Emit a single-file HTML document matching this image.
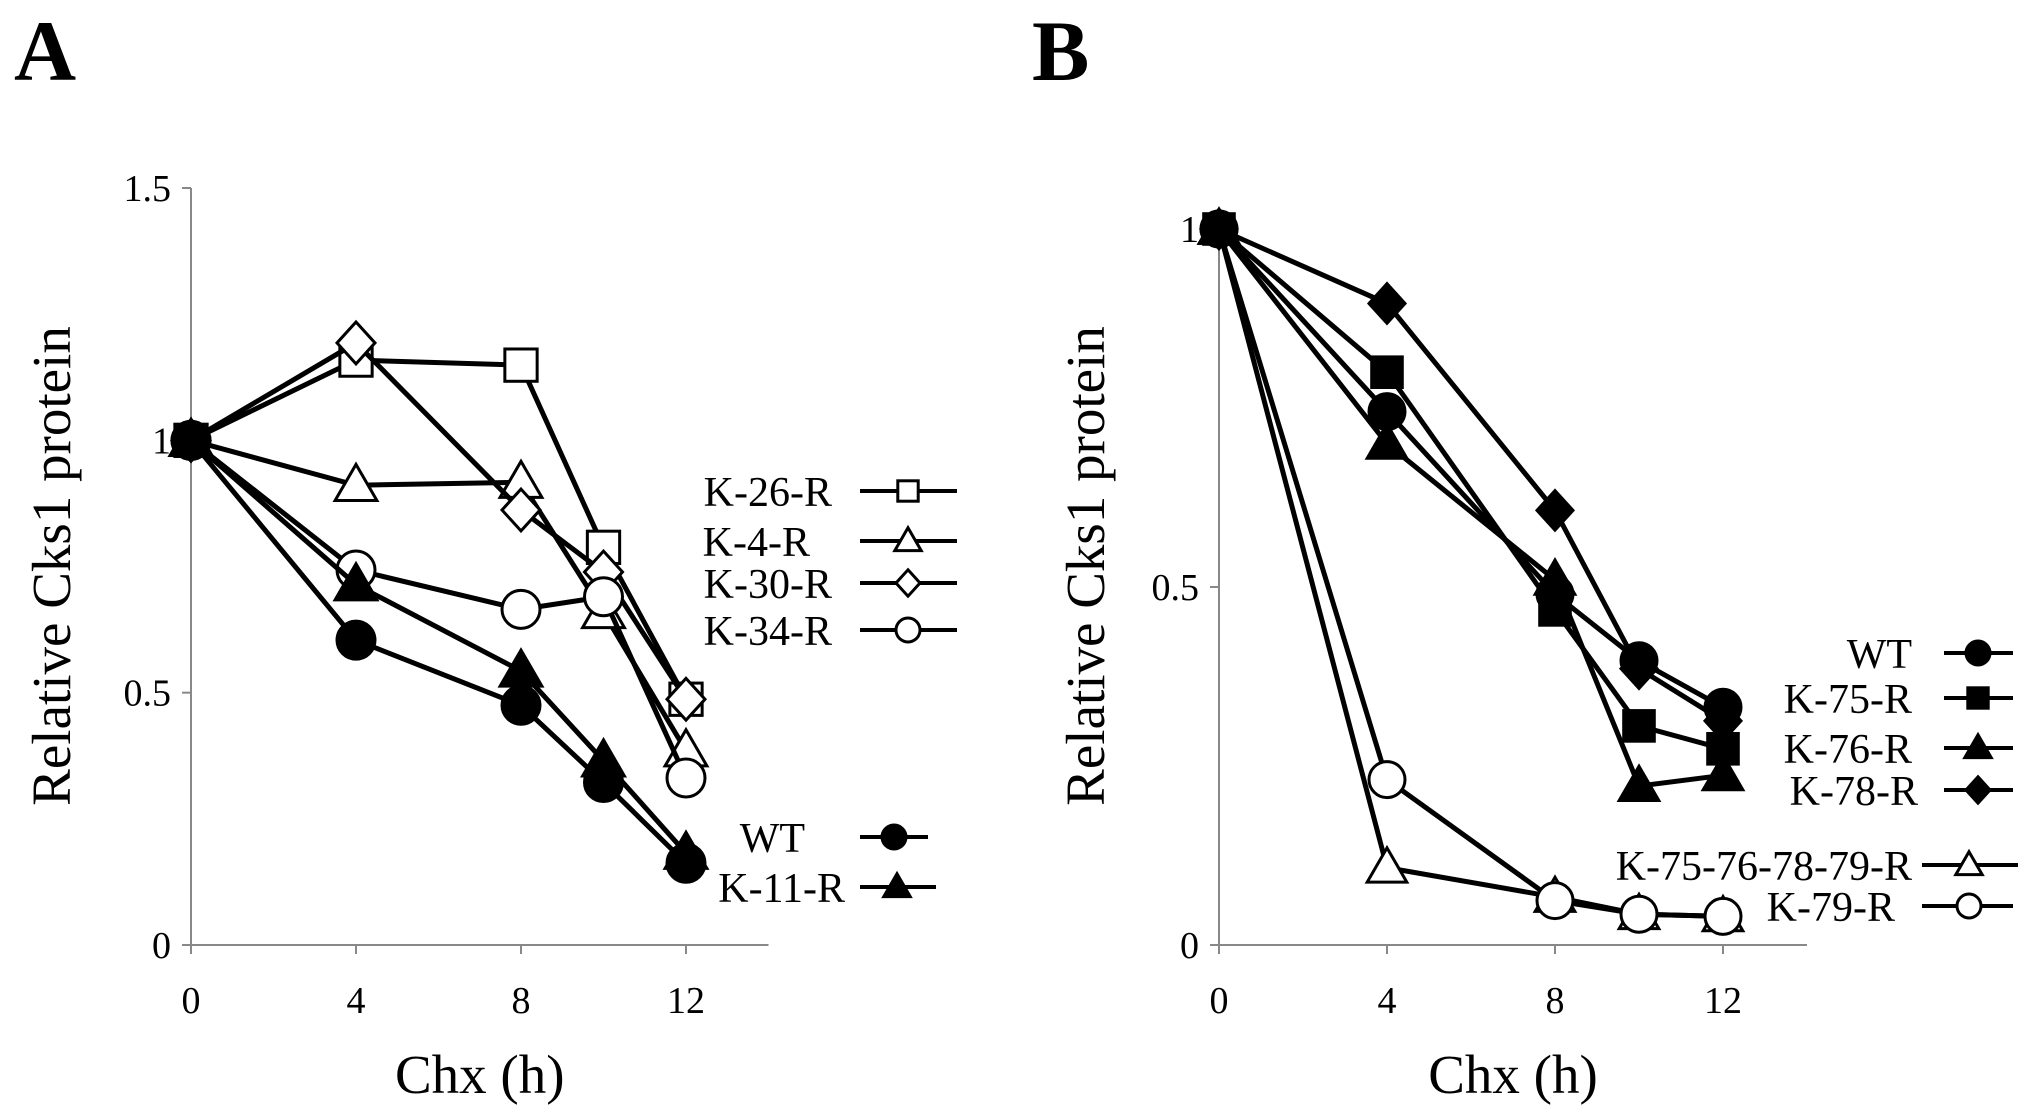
<!DOCTYPE html>
<html><head><meta charset="utf-8"><style>
html,body{margin:0;padding:0;background:#fff;}
svg, svg text{font-family:"Liberation Serif","Times New Roman",Times,serif;}
svg{display:block;}
</style></head><body>
<svg id="c" width="2031" height="1116" viewBox="0 0 2031 1116" xmlns="http://www.w3.org/2000/svg" font-family="Liberation Serif, Times New Roman, serif"></svg>
<script>
const hours = [0, 4, 8, 10, 12];
const xTicks = [0, 4, 8, 12];
const yTicksA = [0, 0.5, 1, 1.5];
const yTicksB = [0, 0.5, 1];
const aK26 = [1, 1.159, 1.149, 0.788, 0.487];
const aK4 = [1, 0.911, 0.917, 0.659, 0.385];
const aK30 = [1, 1.193, 0.862, 0.739, 0.487];
const aK34 = [1, 0.743, 0.665, 0.690, 0.331];
const aWT = [1, 0.604, 0.475, 0.322, 0.162];
const aK11 = [1, 0.714, 0.543, 0.365, 0.182];
const bWT = [1, 0.745, 0.490, 0.397, 0.332];
const bK75 = [1, 0.800, 0.468, 0.306, 0.274];
const bK76 = [1, 0.700, 0.510, 0.222, 0.237];
const bK78 = [1, 0.896, 0.607, 0.386, 0.313];
const bQuad = [1, 0.108, 0.067, 0.043, 0.040];
const bK79 = [1, 0.231, 0.062, 0.043, 0.040];

const svg = document.getElementById('c');
const NS = 'http://www.w3.org/2000/svg';
const FF = '"Liberation Serif", "Times New Roman", serif';
function mk(tag, attrs, parent){const e=document.createElementNS(NS,tag);for(const k in attrs)e.setAttribute(k,attrs[k]);if(tag==='text')e.style.fontFamily=FF;(parent||svg).appendChild(e);return e;}

function marker(g, type, x, y, r){
  const fill = type.startsWith('f') ? '#000' : '#fff';
  const sh = type.slice(1);
  let e;
  if(sh==='circle') e=mk('circle',{cx:x,cy:y,r:r,fill:fill,stroke:'#000','stroke-width':3},g);
  else if(sh==='square') e=mk('rect',{x:x-r*0.85,y:y-r*0.85,width:r*1.7,height:r*1.7,fill:fill,stroke:'#000','stroke-width':3},g);
  else if(sh==='tri') e=mk('polygon',{points:`${x},${y-r*1.1} ${x+r*1.1},${y+r*0.8} ${x-r*1.1},${y+r*0.8}`,fill:fill,stroke:'#000','stroke-width':3},g);
  else e=mk('polygon',{points:`${x},${y-r*1.1} ${x+r},${y} ${x},${y+r*1.1} ${x-r},${y}`,fill:fill,stroke:'#000','stroke-width':3},g);
  
  
}

function panel(p){
  const g = mk('g',{});
  
  
  const X = h => p.x0 + h*p.xs;
  const Y = v => p.y0 - (v/p.ymax)*(p.y0-p.ytop);
  const ax = mk('path',{d:`M${p.x0},${p.axTop} V${p.y0} H${X(14)}`,fill:'none',stroke:'#888','stroke-width':2},g);
  
  
  p.yTicks.forEach(v=>{
    const t=mk('line',{x1:p.x0-9,x2:p.x0,y1:Y(v),y2:Y(v),stroke:'#888','stroke-width':2},g);
    
    
    const l=mk('text',{x:p.x0-20,y:Y(v)+13,'font-size':38,'text-anchor':'end'},g);
    
    
    l.textContent=String(v);
  });
  xTicks.forEach(h=>{
    const t=mk('line',{x1:X(h),x2:X(h),y1:p.y0,y2:p.y0+9,stroke:'#888','stroke-width':2},g);
    
    
    const l=mk('text',{x:X(h),y:1013,'font-size':38,'text-anchor':'middle'},g);
    
    
    l.textContent=String(h);
  });
  const xt=mk('text',{x:X(7),y:1093,'font-size':55,'text-anchor':'middle'},g);
  
  
  xt.textContent='Chx (h)';
  const yt=mk('text',{x:0,y:0,'font-size':55,'text-anchor':'middle',transform:`translate(${p.ytx},${p.yty}) rotate(-90)`},g);
  
  
  yt.textContent='Relative Cks1 protein';
  const pl=mk('text',{x:p.lx,y:80,'font-size':86,'font-weight':'bold'},g);
  
  
  pl.textContent=p.label;
  p.series.forEach(s=>{
    const lg=mk('g',{},g);
    
    
    const lt=mk('text',{x:s.lg[0],y:s.lg[1]+15,'font-size':42,'text-anchor':'end'},lg);
    lt.textContent=s.label;
    mk('line',{x1:s.lg[2],x2:s.lg[3],y1:s.lg[1],y2:s.lg[1],stroke:'#000','stroke-width':4},lg);
    marker(lg,s.m,s.lg[4],s.lg[1],12);
  });
  p.series.slice().sort((a,b)=>a.z-b.z).forEach(s=>{
    const sg=mk('g',{},g);
    
    
    const pts=s.data.map((v,i)=>X(hours[i])+','+Y(v)).join(' ');
    const ln=mk('polyline',{points:pts,fill:'none',stroke:'#000','stroke-width':5,'stroke-linejoin':'round'},sg);
    
    
    s.data.forEach((v,i)=>marker(sg,s.m,X(hours[i]),Y(v),p.r));
  });
}

panel({name:'panel-a',label:'A',lx:14,x0:191,xs:41.25,y0:945,ytop:188,ymax:1.5,axTop:188,yTicks:yTicksA,ytx:70,yty:566,r:19,
  series:[
    {label:'K-26-R',m:'osquare',z:1,data:aK26,lg:[832,491,860,957,908]},
    {label:'K-4-R',m:'otri',z:1,data:aK4,lg:[810,541,860,957,908]},
    {label:'K-30-R',m:'odiamond',z:1,data:aK30,lg:[832,583,860,957,908]},
    {label:'K-34-R',m:'ocircle',z:1,data:aK34,lg:[832,630,860,957,908]},
    {label:'WT',m:'fcircle',z:2,data:aWT,lg:[805,837,860,928,894]},
    {label:'K-11-R',m:'ftri',z:2,data:aK11,lg:[845,887,860,936,897]}
  ]});
panel({name:'panel-b',label:'B',lx:1032,x0:1219,xs:42,y0:945,ytop:229,ymax:1,axTop:226,yTicks:yTicksB,ytx:1104,yty:566,r:18,
  series:[
    {label:'WT',m:'fcircle',z:2,data:bWT,lg:[1912,653,1944,2013,1978]},
    {label:'K-75-R',m:'fsquare',z:2,data:bK75,lg:[1912,698,1944,2013,1978]},
    {label:'K-76-R',m:'ftri',z:2,data:bK76,lg:[1912,748,1944,2013,1978]},
    {label:'K-78-R',m:'fdiamond',z:2,data:bK78,lg:[1918,790,1944,2013,1978]},
    {label:'K-75-76-78-79-R',m:'otri',z:1,data:bQuad,lg:[1912,865,1922,2018,1969]},
    {label:'K-79-R',m:'ocircle',z:1,data:bK79,lg:[1895,906,1922,2013,1969]}
  ]});
</script>
</body></html>
